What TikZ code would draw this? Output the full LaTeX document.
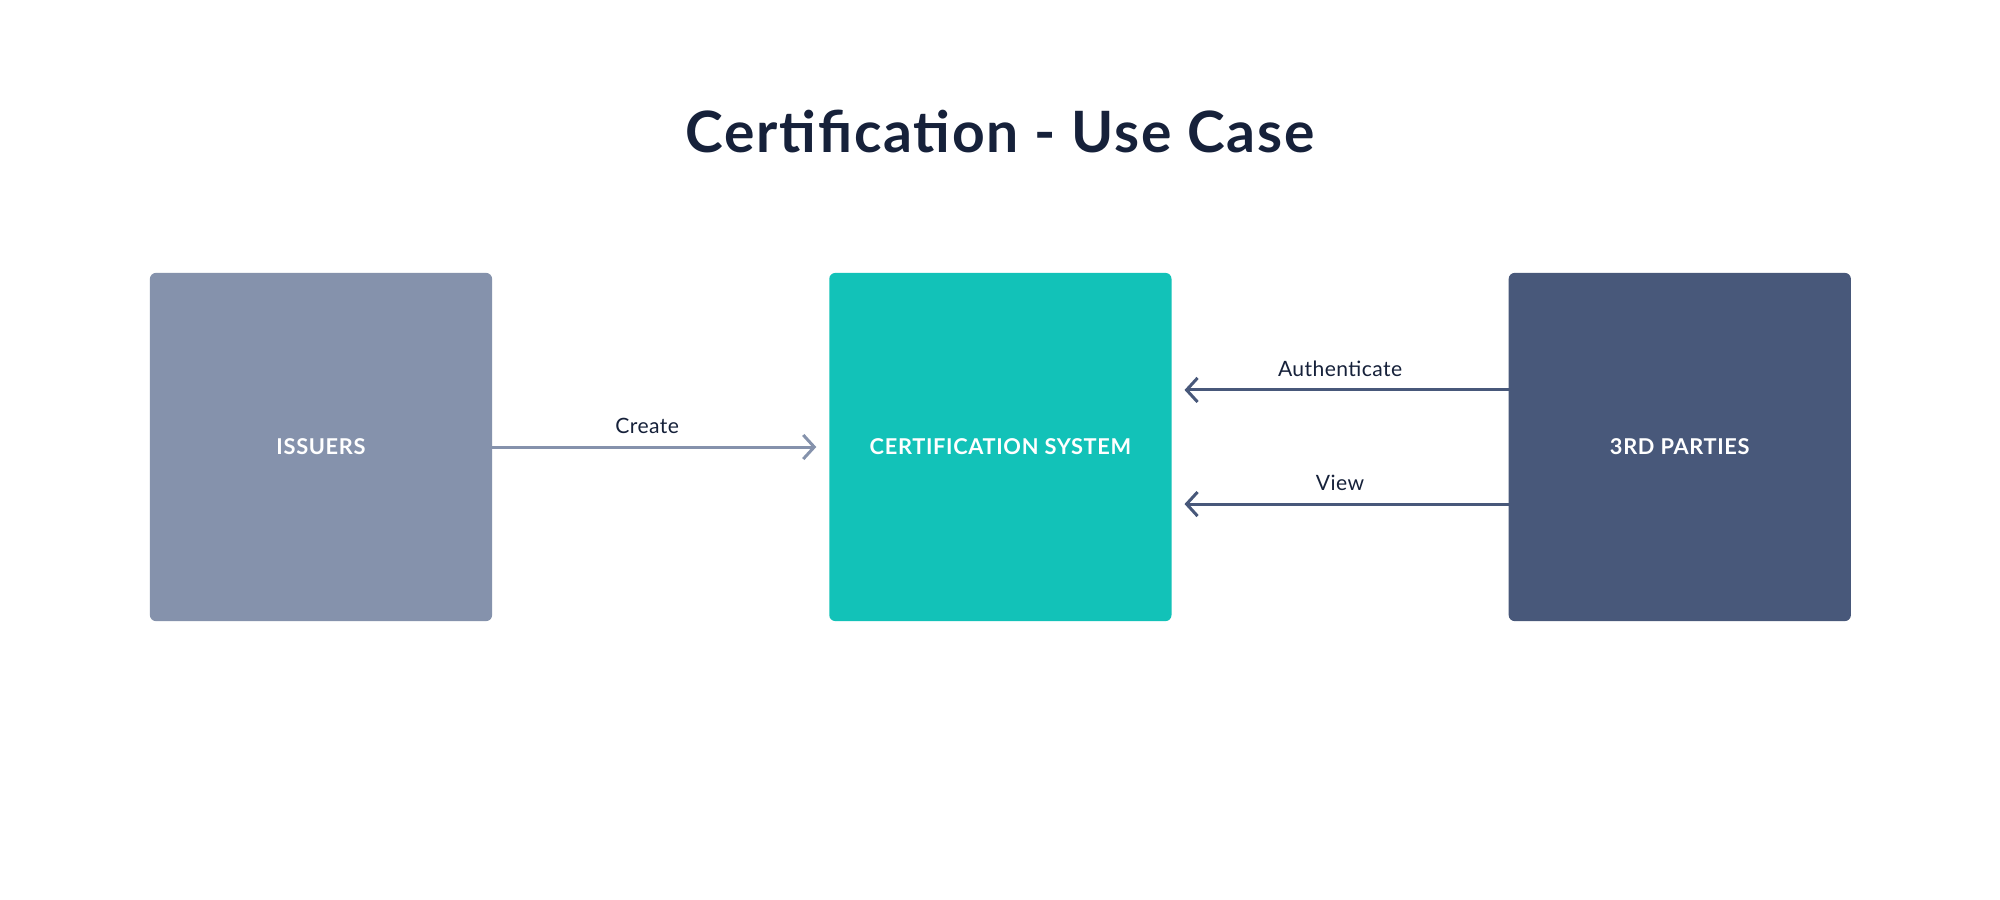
\documentclass[tikz,border=0pt]{standalone}
\usepackage{fontspec}
\setmainfont{Lato}
\usetikzlibrary{positioning,arrows.meta}
\definecolor{titleColor}{RGB}{22,33,58}
\definecolor{issuerColor}{RGB}{133,146,172}
\definecolor{systemColor}{RGB}{18,194,184}
\definecolor{partyColor}{RGB}{72,88,122}
\tikzstyle{canvas} = [x = .01cm, y = -.01cm]
\tikzstyle{actorBox} = [rectangle, rounded corners = .06cm, minimum width = 3.42cm, minimum height = 3.48cm, outer sep = 0pt, text = white, font = \fontsize{6.2}{7}\selectfont\bfseries\addfontfeatures{LetterSpace = 3}, inner sep = 0pt]
\tikzstyle{useArrow} = [line width = .03cm, -{Straight Barb[length = .11cm, width = .24cm]}, shorten > = .13cm]
\tikzstyle{arrowText} = [font = \fontsize{6}{7}\selectfont\addfontfeatures{LetterSpace = 2}, text = titleColor, inner sep = 0pt, above = .12cm]
\tikzstyle{titleText} = [font = \fontsize{16.2}{18}\selectfont\bfseries\addfontfeatures{LetterSpace = 3.2}, text = titleColor, anchor = base, inner sep = 0pt]

\begin{document}
\begin{tikzpicture}[canvas]
  \fill [white] (0, 0) rectangle (2000, 900);
  \useasboundingbox (0, 0) rectangle (2000, 900);

  \node [titleText] (title) at (1000, 152) {Certification - Use Case};

  \node [actorBox, fill = issuerColor] (issuers) at (321, 447) {ISSUERS};
  \node [actorBox, fill = systemColor, right = 3.37cm of issuers] (system) {CERTIFICATION SYSTEM};
  \node [actorBox, fill = partyColor, right = 3.37cm of system] (parties) {3RD PARTIES};

  \draw [useArrow, color = issuerColor] (issuers) -- (system)
    node [arrowText, pos = .46] {Create};
  \draw [useArrow, color = partyColor] ([yshift = .57cm] parties.west) -- ([yshift = .57cm] system.east)
    node [arrowText, midway] {Authenticate};
  \draw [useArrow, color = partyColor] ([yshift = -.57cm] parties.west) -- ([yshift = -.57cm] system.east)
    node [arrowText, midway] {View};
\end{tikzpicture}
\end{document}
